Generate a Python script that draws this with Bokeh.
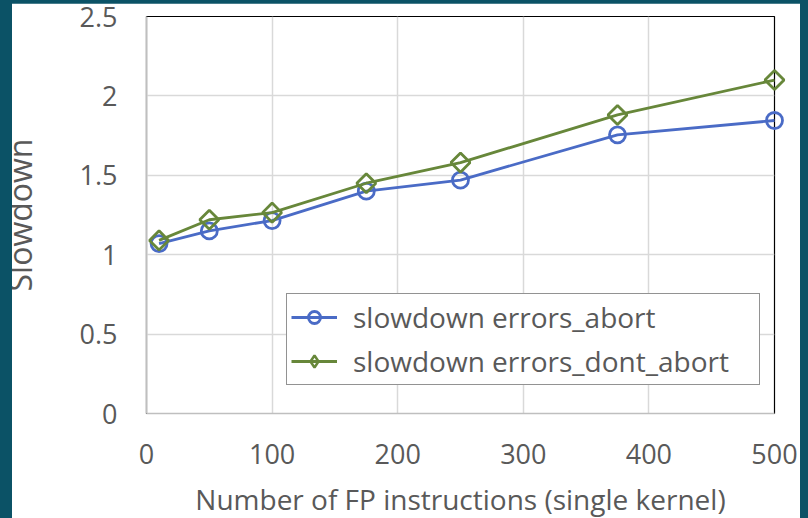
import numpy as np
from bokeh.plotting import figure
from bokeh.models import (Legend, LegendItem, FixedTicker, Range1d,
                          ColumnDataSource, GlobalInlineStyleSheet)
from bokeh.embed import file_html
from bokeh.resources import INLINE

# ---- data ----
fp_instructions = [10, 50, 100, 175, 250, 375, 500]
slowdown_abort = [1.07, 1.15, 1.215, 1.40, 1.47, 1.755, 1.845]
slowdown_dont_abort = [1.09, 1.22, 1.265, 1.45, 1.58, 1.88, 2.10]
series_labels = ["slowdown errors_abort", "slowdown errors_dont_abort"]
x_ticks = [0, 100, 200, 300, 400, 500]
y_ticks = [0, 0.5, 1, 1.5, 2, 2.5]
y_tick_labels = ["0", "0.5", "1", "1.5", "2", "2.5"]
x_title = "Number of FP instructions (single kernel)"
y_title = "Slowdown"

BLUE = "#4a6bc6"
GREEN = "#67873a"
TXT = "#595959"
FONT = "Open Sans"
FRAME_BG = "#0b5266"

src = ColumnDataSource(dict(x=fp_instructions, a=slowdown_abort, d=slowdown_dont_abort))

p = figure(width=806, height=530, output_backend="svg", toolbar_location=None,
           x_range=Range1d(0, 500), y_range=Range1d(0, 2.5),
           min_border_left=152, min_border_right=26,
           min_border_top=13, min_border_bottom=120)
css = (
    "html,body{background:%s !important;padding:0 !important;overflow:hidden !important;}"
    "body{margin:3px 0 0 -6px !important;}"
    "body::before{content:'';position:fixed;left:0;top:0;width:12px;height:100%%;"
    "background:%s;z-index:1000;}"
) % (FRAME_BG, FRAME_BG)
p.stylesheets = [GlobalInlineStyleSheet(css=css)]

p.background_fill_color = "white"
p.border_fill_color = "white"
p.outline_line_color = "black"
p.outline_line_width = 1.2

for ax in (p.xaxis, p.yaxis):
    ax.axis_line_color = "#bfbfbf"
    ax.axis_line_width = 1.5
    ax.major_tick_line_color = None
    ax.minor_tick_line_color = None
    ax.major_label_text_font = FONT
    ax.major_label_text_font_size = "27px"
    ax.major_label_text_color = TXT
    ax.axis_label_text_font = FONT
    ax.axis_label_text_font_style = "normal"
    ax.axis_label_text_color = TXT

p.xaxis.ticker = FixedTicker(ticks=x_ticks)
p.yaxis.ticker = FixedTicker(ticks=y_ticks)
p.yaxis.major_label_overrides = {t: l for t, l in zip(y_ticks, y_tick_labels)}
p.xaxis.major_label_standoff = 24
p.yaxis.major_label_standoff = 23
p.xaxis.axis_label = x_title
p.xaxis.axis_label_text_font_size = "28px"
p.xaxis.axis_label_standoff = 13
p.yaxis.axis_label = y_title
p.yaxis.axis_label_text_font_size = "32px"
p.yaxis.axis_label_standoff = 36

p.xgrid.ticker = FixedTicker(ticks=x_ticks)
p.ygrid.ticker = FixedTicker(ticks=y_ticks)
p.grid.grid_line_color = "#d9d9d9"
p.grid.grid_line_width = 1.5

la = p.line("x", "a", source=src, line_color=BLUE, line_width=2.8, level="overlay")
sa = p.scatter("x", "a", source=src, marker="circle", size=16,
               line_color=BLUE, line_width=2.8, fill_alpha=0, level="overlay")
ld = p.line("x", "d", source=src, line_color=GREEN, line_width=2.8, level="overlay")
sd = p.scatter("x", "d", source=src, marker="square", size=13.5,
               angle=np.pi / 4, line_color=GREEN, line_width=2.8, fill_alpha=0,
               level="overlay")
# legend-only diamond glyph (not drawn in the plot)
ld_leg = p.scatter("x", "d", source=src, marker="diamond", size=17,
                   line_color=GREEN, line_width=2.5, fill_alpha=0, visible=False)

legend = Legend(items=[LegendItem(label=series_labels[0], renderers=[la, sa]),
                       LegendItem(label=series_labels[1], renderers=[ld, ld_leg])],
                location=(140, 28), margin=0, padding=4, spacing=6,
                glyph_width=46, glyph_height=30, label_standoff=16,
                label_text_font=FONT, label_text_font_size="28px",
                label_text_color=TXT, label_width=402,
                border_line_color="#262626", border_line_width=1.2,
                background_fill_color="white", background_fill_alpha=1,
                inactive_fill_alpha=0)
p.add_layout(legend, "center")

open("out.html", "w").write(file_html(p, INLINE))
